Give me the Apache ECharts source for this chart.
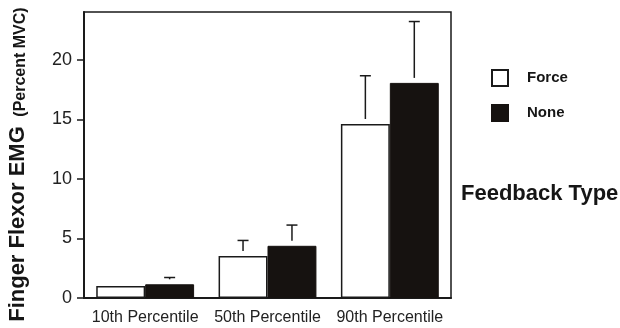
<!DOCTYPE html>
<html>
<head>
<meta charset="utf-8">
<script src="https://cdn.jsdelivr.net/npm/echarts@6/dist/echarts.min.js"></script>
<style>
  html, body { margin: 0; padding: 0; background: #fff; }
  #chart { width: 620px; height: 328px; }
</style>
</head>
<body>
<div id="chart"></div>
<script>
// Finger flexor EMG by force percentile and feedback type
const categories = ['10th Percentile', '50th Percentile', '90th Percentile'];
const forceMean = [1.0, 3.52, 14.6];
const noneMean = [1.15, 4.38, 18.05];
// upper end of each error bar (null = not drawn)
const forceUpper = [null, 4.83, 18.65];
const noneUpper = [1.72, 6.12, 23.2];
const yTicks = [0, 5, 10, 15, 20];

const ink = '#161210';
const FONT = 'Liberation Sans, Arial, Helvetica, sans-serif';

function errorData(means, uppers) {
  const out = [];
  means.forEach((m, i) => {
    if (uppers[i] != null) out.push([i, m, uppers[i]]);
  });
  return out;
}

function makeErrorRender(side) {
  return function (params, api) {
    const cat = api.value(0);
    const mean = api.value(1);
    const upper = api.value(2);
    const band = api.size([1, 0])[0];
    const pTop = api.coord([cat, upper]);
    const pMean = api.coord([cat, mean]);
    const x = pTop[0] + side * band * 0.2;
    const stemEnd = Math.max(pTop[1], pMean[1] - 5);
    const style = { stroke: '#1a1a1a', lineWidth: 1.5 };
    return {
      type: 'group',
      children: [
        { type: 'line', shape: { x1: x, y1: pTop[1], x2: x, y2: stemEnd }, style: style },
        { type: 'line', shape: { x1: x - 5.5, y1: pTop[1], x2: x + 5.5, y2: pTop[1] }, style: style }
      ]
    };
  };
}

const chart = echarts.init(document.getElementById('chart'), null, { renderer: 'canvas' });

chart.setOption({
  animation: false,
  textStyle: { fontFamily: FONT },
  grid: {
    left: 84, right: 169, top: 12, bottom: 30,
    show: true, borderColor: '#1a1a1a', borderWidth: 1.5, backgroundColor: 'transparent'
  },
  title: {
    text: 'Feedback Type',
    left: 456, top: 178,
    textStyle: { fontFamily: FONT, fontSize: 22, fontWeight: 'bold', color: '#161616' }
  },
  legend: {
    data: ['Force', 'None'],
    orient: 'vertical',
    left: 486, top: 64,
    itemWidth: 16, itemHeight: 16, itemGap: 17,
    icon: 'rect',
    textStyle: { fontFamily: FONT, fontSize: 15, fontWeight: 'bold', color: '#161616', padding: [0, 0, 0, 14] }
  },
  xAxis: {
    type: 'category',
    data: categories,
    axisLine: { lineStyle: { color: '#1a1a1a', width: 2 } },
    axisTick: { alignWithLabel: true, length: 7, lineStyle: { color: '#1a1a1a', width: 1.5 } },
    axisLabel: { fontFamily: FONT, fontSize: 16, color: '#222', margin: 12, interval: 0, hideOverlap: false },
    splitLine: { show: false }
  },
  yAxis: {
    type: 'value',
    min: 0, max: 24, interval: 5,
    axisLine: { show: true, lineStyle: { color: '#1a1a1a', width: 2 } },
    axisTick: { show: true, length: 7, lineStyle: { color: '#1a1a1a', width: 1.5 }, customValues: yTicks },
    axisLabel: { fontFamily: FONT, fontSize: 18, color: '#222', margin: 12, customValues: yTicks },
    splitLine: { show: false }
  },
  graphic: [
    {
      type: 'text', x: 18, y: 224, rotation: Math.PI / 2,
      style: {
        text: 'Finger Flexor EMG', fontFamily: FONT, fontSize: 22, fontWeight: 'bold',
        fill: '#161616', align: 'center', verticalAlign: 'middle'
      }
    },
    {
      type: 'text', x: 21, y: 62, rotation: Math.PI / 2,
      style: {
        text: '(Percent MVC)', fontFamily: FONT, fontSize: 16, fontWeight: 'bold',
        fill: '#161616', align: 'center', verticalAlign: 'middle'
      }
    }
  ],
  series: [
    {
      name: 'Force', type: 'bar', data: forceMean,
      barGap: 0, barCategoryGap: '20%',
      itemStyle: { color: '#ffffff', borderColor: '#1a1a1a', borderWidth: 1.5 }
    },
    {
      name: 'None', type: 'bar', data: noneMean,
      barGap: 0, barCategoryGap: '20%',
      itemStyle: { color: ink, borderColor: ink, borderWidth: 1 }
    },
    {
      name: 'ForceErr', type: 'custom', data: errorData(forceMean, forceUpper),
      renderItem: makeErrorRender(-1), z: 5, silent: true
    },
    {
      name: 'NoneErr', type: 'custom', data: errorData(noneMean, noneUpper),
      renderItem: makeErrorRender(1), z: 5, silent: true
    }
  ]
});
</script>
</body>
</html>
